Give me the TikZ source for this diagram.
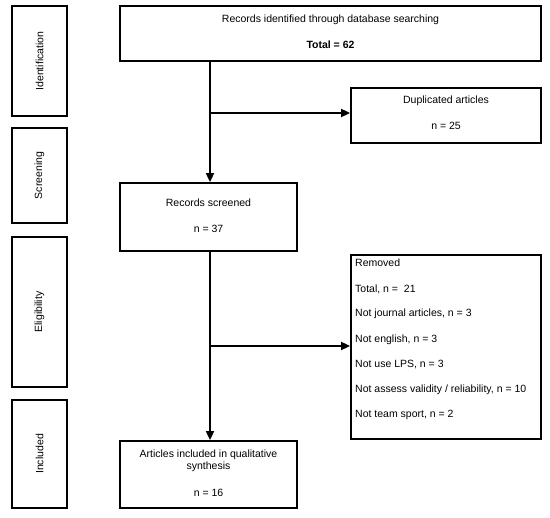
\documentclass[tikz,border=0pt]{standalone}
\usepackage{fontspec}
\setmainfont{Liberation Sans}
\usetikzlibrary{arrows.meta}
\begin{document}
\begin{tikzpicture}[x=1pt,y=-1pt,
  box/.style={draw=black,line width=1.8pt,inner sep=0pt},
  txt/.style={font=\fontsize{10.5}{12.5}\selectfont,inner sep=0pt},
  side/.style={font=\fontsize{10.5}{12.5}\selectfont,inner sep=0pt,rotate=90},
  conn/.style={line width=1.8pt},
  arr/.style={conn,-{Triangle[length=9pt,width=8pt]}}]
\useasboundingbox (0,0) rectangle (550,518);
% side boxes
\draw[box] (12,6) rectangle (67,116);
\node[side] (lid) at (39.5,61) {Identification};
\draw[box] (12,128) rectangle (67,223);
\node[side] (lsc) at (39.5,175.5) {Screening};
\draw[box] (12,237) rectangle (67,387);
\node[side] (lel) at (39.5,312) {Eligibility};
\draw[box] (12,400) rectangle (67,508);
\node[side] (lin) at (39.5,454) {Included};
% main boxes
\node[box,minimum width=421pt,minimum height=55pt] (top) at (330.5,33.5) {};
\node[txt] (t1) at (330.5,20) {Records identified through database searching};
\node[txt,font=\fontsize{10.5}{12.5}\selectfont\bfseries] (t2) at (330.5,45) {Total = 62};
\node[box,minimum width=190pt,minimum height=55pt] (dup) at (446,115.5) {};
\node[txt] (d1) at (446,101) {Duplicated articles};
\node[txt] (d2) at (446,126) {n = 25};
\node[box,minimum width=177pt,minimum height=68pt] (scr) at (208.5,217) {};
\node[txt] (s1) at (208.5,203) {Records screened};
\node[txt] (s2) at (208.5,229) {n = 37};
\node[box,minimum width=190pt,minimum height=184pt] (rem) at (446,347) {};
\node[txt,anchor=west] (r1) at (355,263) {Removed};
\node[txt,anchor=west] (r2) at (355,289) {Total, n =\ \ 21};
\node[txt,anchor=west] (r3) at (355,314) {Not journal articles, n = 3};
\node[txt,anchor=west] (r4) at (355,339.5) {Not english, n = 3};
\node[txt,anchor=west] (r5) at (355,365) {Not use LPS, n = 3};
\node[txt,anchor=west] (r6) at (355,390) {Not assess validity / reliability, n = 10};
\node[txt,anchor=west] (r7) at (355,415) {Not team sport, n = 2};
\node[box,minimum width=177pt,minimum height=67pt] (inc) at (208.5,474.5) {};
\node[txt,align=center] (i1) at (208.5,461) {Articles included in qualitative\\synthesis};
\node[txt] (i2) at (208.5,493) {n = 16};
% connectors
\coordinate (b1) at (210,113);
\coordinate (b2) at (210,346);
\draw[arr] (top.south -| b1) -- (scr.north -| b1);
\draw[arr] (b1) -- (b1 -| dup.west);
\draw[arr] (scr.south -| b2) -- (inc.north -| b2);
\draw[arr] (b2) -- (b2 -| rem.west);
\end{tikzpicture}
\end{document}
